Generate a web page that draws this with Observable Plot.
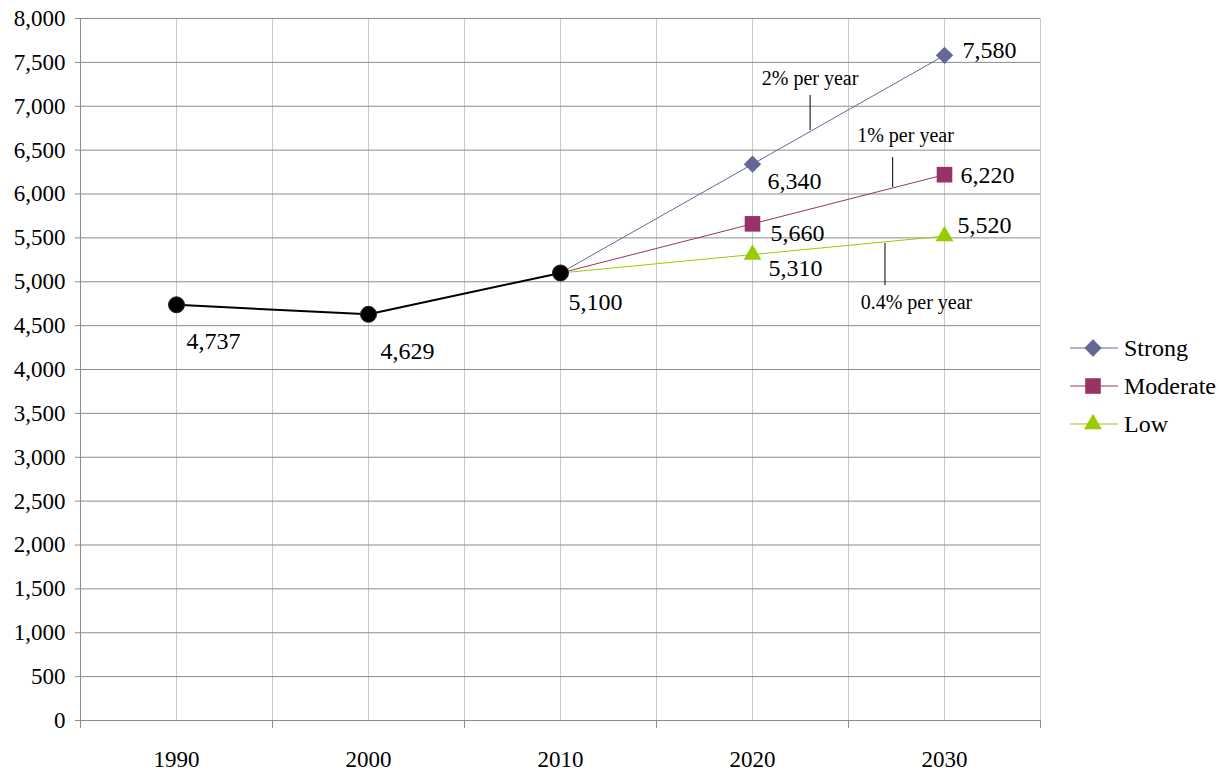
<!DOCTYPE html>
<html>
<head>
<meta charset="utf-8">
<script src="https://cdn.jsdelivr.net/npm/d3@7"></script>
<script src="https://cdn.jsdelivr.net/npm/@observablehq/plot@0.6"></script>
<style>
  html, body { margin: 0; padding: 0; background: #fff; }
  #chart { position: relative; width: 1224px; height: 772px; font-family: "Liberation Serif", "Times New Roman", serif; }
  #chart svg text { font-family: "Liberation Serif", "Times New Roman", serif; }
  #legend { position: absolute; left: 1070px; top: 329px; font-size: 24px; color: #000; }
  #legend .row { display: flex; align-items: center; height: 38px; }
  #legend svg { margin-right: 6px; }
</style>
</head>
<body>
<div id="chart"><div id="legend"></div></div>
<script>
// Observed values
const historyYears = [1990, 2000, 2010];
const historyValues = [4737, 4629, 5100];

// Projection scenarios, starting from the 2010 value
const projectionYears = [2010, 2020, 2030];
const seriesNames = ["Strong", "Moderate", "Low"];
const strongValues = [5100, 6340, 7580];
const moderateValues = [5100, 5660, 6220];
const lowValues = [5100, 5310, 5520];
const growthLabels = ["2% per year", "1% per year", "0.4% per year"];

// Axis ticks
const categoryYears = [1990, 2000, 2010, 2020, 2030];
const yTicks = d3.range(0, 8001, 500);

const serif = "'Liberation Serif', 'Times New Roman', serif";
const seriesColors = {Strong: "#666699", Moderate: "#993366", Low: "#99cc00"};
const seriesSymbols = {Strong: "diamond2", Moderate: "square", Low: "triangle"};
const seriesRadius = {Strong: 7.8, Moderate: 8.8, Low: 6.6};

const history = historyYears.map((year, i) => ({year, value: historyValues[i]}));
const valuesBySeries = {Strong: strongValues, Moderate: moderateValues, Low: lowValues};
const projections = seriesNames.flatMap(series =>
  projectionYears.map((year, i) => ({series, year, value: valuesBySeries[series][i]}))
);

// Value label placement (pixel nudges around each marker)
const labelNudge = {
  "history-1990": [10, 36], "history-2000": [12, 37], "history-2010": [8, 29],
  "Strong-2020": [15, 17], "Moderate-2020": [18, 9], "Low-2020": [16, 14],
  "Strong-2030": [18, -5], "Moderate-2030": [16, 1], "Low-2030": [13, -11]
};
const valueLabels = [
  ...history.map(d => ({...d, key: `history-${d.year}`})),
  ...projections.filter(d => d.year > 2010).map(d => ({...d, key: `${d.series}-${d.year}`}))
];

// Growth-rate callouts: leader from text down to the scenario line
const callouts = [
  {text: growthLabels[0], x: 2023.0, yText: 7316, yTop: 7122, yEnd: 6724},
  {text: growthLabels[1], x: 2027.3, xText: 2027.97, yText: 6667, yTop: 6416, yEnd: 6074},
  {text: growthLabels[2], x: 2026.9, xText: 2028.54, yText: 4763, yTop: 5436, yEnd: 4957}
];

const fmt = d3.format(",");

const chart = Plot.plot({
  width: 1224,
  height: 772,
  marginLeft: 80,
  marginRight: 184,
  marginTop: 18,
  marginBottom: 52,
  x: {domain: [1985, 2035]},
  y: {domain: [0, 8000]},
  style: {fontFamily: serif, fontSize: "23px", color: "#000", background: "transparent"},
  marks: [
    Plot.gridX(d3.range(1985, 2036, 5), {stroke: "#cacaca", strokeOpacity: 1}),
    Plot.gridY(yTicks, {stroke: "#8c8c8c", strokeOpacity: 1}),
    Plot.ruleX([1985], {stroke: "#8c8c8c"}),
    Plot.ruleY([0], {stroke: "#8c8c8c"}),
    Plot.axisY(yTicks, {tickSize: 5, tickPadding: 10, tickFormat: fmt, label: null, stroke: "#8c8c8c", fill: "#000", fontFamily: serif, fontSize: 23}),
    Plot.axisX(d3.range(1985, 2036, 10), {tickSize: 8, tickFormat: () => "", label: null, stroke: "#8c8c8c"}),
    Plot.axisX(categoryYears, {tickSize: 0, tickPadding: 30, tickFormat: d => String(d), label: null, fill: "#000", fontFamily: serif, fontSize: 23}),

    // scenario lines
    Plot.line(projections, {x: "year", y: "value", z: "series", stroke: d => seriesColors[d.series], strokeWidth: 1}),
    // observed line
    Plot.line(history, {x: "year", y: "value", stroke: "#000", strokeWidth: 2}),

    // callout leaders and text
    Plot.ruleX(callouts, {x: "x", y1: "yTop", y2: "yEnd", stroke: "#000", strokeWidth: 1}),
    Plot.text(callouts, {x: d => d.xText ?? d.x, y: "yText", text: "text", fontSize: 20, fill: "#000", fontFamily: serif}),

    // markers
    Plot.dot(history, {x: "year", y: "value", r: 8, fill: "#000", stroke: "#222", strokeWidth: 1}),
    ...seriesNames.map(series => Plot.dot(projections.filter(d => d.series === series && d.year > 2010), {
      x: "year", y: "value", symbol: () => seriesSymbols[series], r: seriesRadius[series], fill: seriesColors[series]
    })),

    // value labels
    ...valueLabels.map(d => Plot.text([d], {
      x: "year", y: "value", text: v => fmt(v.value), textAnchor: "start",
      dx: labelNudge[d.key][0], dy: labelNudge[d.key][1], fontSize: 24, fill: "#000", fontFamily: serif
    }))
  ]
});

document.getElementById("chart").prepend(chart);

// Legend
const legend = d3.select("#legend");
for (const series of seriesNames) {
  const row = legend.append("div").attr("class", "row");
  const svg = row.append("svg").attr("width", 48).attr("height", 24);
  svg.append("line").attr("x1", 0).attr("x2", 48).attr("y1", 12).attr("y2", 12)
    .attr("stroke", seriesColors[series]).attr("stroke-width", 1.2);
  svg.append("path")
    .attr("transform", "translate(23,12)")
    .attr("d", d3.symbol(
      series === "Strong" ? d3.symbolDiamond2 : series === "Moderate" ? d3.symbolSquare : d3.symbolTriangle,
      Math.PI * seriesRadius[series] ** 2
    )())
    .attr("fill", seriesColors[series]);
  row.append("span").text(series);
}
</script>
</body>
</html>
